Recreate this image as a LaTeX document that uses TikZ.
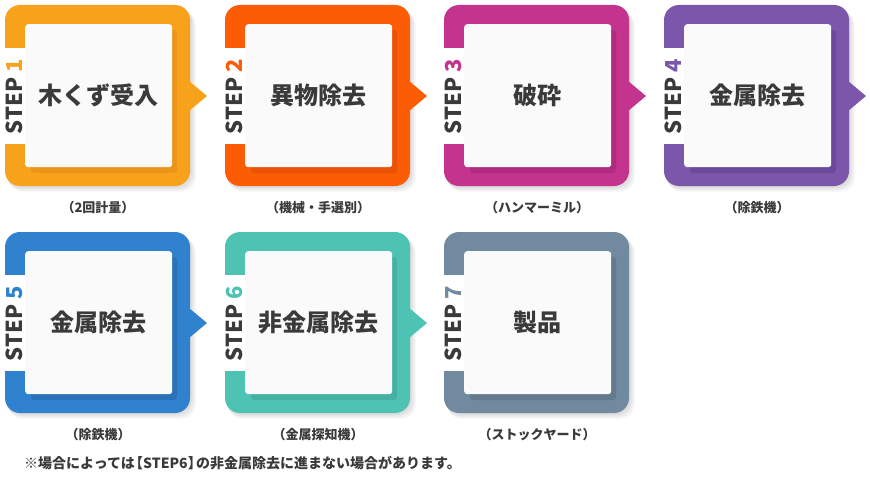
\documentclass[tikz,border=0pt]{standalone}
\usepackage{fontspec}
\setmainfont{Noto Sans CJK JP}
\definecolor{txt}{HTML}{3A3A3A}
\definecolor{cA}{HTML}{F8A21C}\definecolor{dA}{HTML}{EC9418}
\definecolor{cB}{HTML}{FC5C04}\definecolor{dB}{HTML}{EA5206}
\definecolor{cC}{HTML}{C4338E}\definecolor{dC}{HTML}{B02B7F}
\definecolor{cD}{HTML}{7B56AA}\definecolor{dD}{HTML}{6C4A9A}
\definecolor{cE}{HTML}{3182CE}\definecolor{dE}{HTML}{2A72B8}
\definecolor{cF}{HTML}{4EC3B4}\definecolor{dF}{HTML}{44B1A3}
\definecolor{cG}{HTML}{718AA0}\definecolor{dG}{HTML}{63798E}
\tikzset{
  innerbox/.style={fill=black!2, rounded corners=3pt, minimum width=147pt, minimum height=143pt,
    inner sep=0pt, anchor=north west, text=txt, font=\fontsize{24}{28}\selectfont\bfseries},
  steplabel/.style={rotate=90, inner sep=0pt, text=txt, font=\fontsize{22}{24}\selectfont\bfseries},
  sublabel/.style={inner sep=0pt, text=txt, font=\fontsize{13}{15}\selectfont\bfseries},
  notelabel/.style={inner sep=0pt, anchor=west, text=txt, font=\fontsize{14}{16}\selectfont\bfseries},
}
\newcommand\StepCard[9]{%
  \begin{scope}[shift={(#2,#3)}]
    \foreach \d in {1,...,6}
      \fill[black,opacity=0.025,rounded corners=15pt] (0.5*\d,\d) rectangle (185+\d,181+\d);
    \fill[#4, rounded corners=15pt] (0,0) rectangle (185,181);
    \ifnum#9=1 \fill[#4] (184,76) -- (202,91) -- (184,106) -- cycle; \fi
    \begin{scope}
      \clip[rounded corners=15pt] (0,0) rectangle (185,181);
      \fill[#5, rounded corners=3pt] (26,25) rectangle (172,168);
    \end{scope}
    \fill[white] (-8,43) rectangle (19.6,139);
    \node[innerbox] (#1) at (20,19) {#7};
    \node[steplabel] (#1s) at (9,91.5) {STEP \textcolor{#4}{#6}};
    \node[sublabel] (#1l) at (93,203) {（#8）};
  \end{scope}}
\begin{document}
\begin{tikzpicture}[x=1pt,y=-1pt]
\useasboundingbox (0,0) rectangle (870,503);
\fill[white] (0,0) rectangle (870,503);
\StepCard{s1}{5}{5}{cA}{dA}{1}{木くず受入}{2回計量}{1}
\StepCard{s2}{225}{5}{cB}{dB}{2}{異物除去}{機械・手選別}{1}
\StepCard{s3}{444}{5}{cC}{dC}{3}{破砕}{ハンマーミル}{1}
\StepCard{s4}{664}{5}{cD}{dD}{4}{金属除去}{除鉄機}{1}
\StepCard{s5}{5}{232}{cE}{dE}{5}{金属除去}{除鉄機}{1}
\StepCard{s6}{225}{232}{cF}{dF}{6}{非金属除去}{金属探知機}{1}
\StepCard{s7}{444}{232}{cG}{dG}{7}{製品}{ストックヤード}{0}
\node[notelabel] (note) at (24,463) {※場合によっては\kern-.4em【STEP6】\kern-.4em の非金属除去に進まない場合があります。};
\end{tikzpicture}
\end{document}
